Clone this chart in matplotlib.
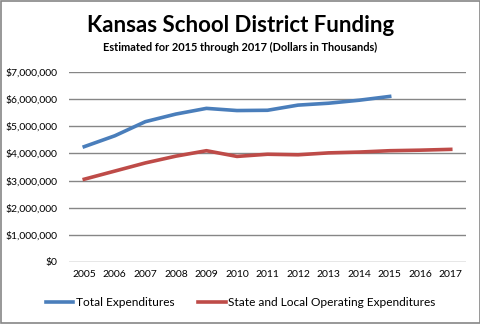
import numpy as np
import matplotlib.pyplot as plt
from matplotlib.ticker import FuncFormatter

# data (dollars in thousands)
years = ['2005', '2006', '2007', '2008', '2009', '2010', '2011',
         '2012', '2013', '2014', '2015', '2016', '2017']
total_exp = [4250000, 4650000, 5170000, 5450000, 5660000, 5580000, 5590000,
             5780000, 5850000, 5960000, 6100000, np.nan, np.nan]
state_local = [3050000, 3350000, 3650000, 3900000, 4100000, 3890000, 3970000,
               3950000, 4020000, 4050000, 4100000, 4120000, 4150000]

plt.rcParams['font.family'] = ['Lato', 'DejaVu Sans']

fig = plt.figure(figsize=(4.81, 3.24), dpi=100)
ax = fig.add_axes([69 / 481, 1 - 262 / 324, 397 / 481, 190 / 324])

x = np.arange(len(years))
ax.plot(x, total_exp, color='#4a7ebb', lw=2.6, label='Total Expenditures')
ax.plot(x, state_local, color='#be4b48', lw=2.6,
        label='State and Local Operating Expenditures')

ax.set_xlim(-0.5, len(years) - 0.5)
ax.set_ylim(0, 7000000)
ax.set_yticks(np.arange(0, 7000001, 1000000))
ax.yaxis.set_major_formatter(FuncFormatter(lambda v, p: '${:,.0f}'.format(v)))
ax.set_xticks(x)
ax.set_xticklabels(years)
ax.grid(axis='y', color='#868686', lw=1)
ax.set_axisbelow(True)
for s in ax.spines.values():
    s.set_visible(False)
ax.tick_params(length=0, labelsize=7.5, pad=6)
ax.tick_params(axis='y', pad=8)

fig.text(0.5, 1 - 25 / 324, 'Kansas School District Funding',
         ha='center', va='center', fontsize=16, fontweight='bold')
fig.text(0.5, 1 - 47 / 324, 'Estimated for 2015 through 2017 (Dollars in Thousands)',
         ha='center', va='center', fontsize=7.9, fontweight='bold')

fig.legend(loc='center', bbox_to_anchor=(0.5, 1 - 303 / 324), ncol=2,
           frameon=False, fontsize=8.6, handlelength=2.3, handletextpad=0.2,
           columnspacing=2.0)

# outer border
fig.patches.append(plt.Rectangle((0.002, 0.003), 0.995, 0.994, transform=fig.transFigure,
                                 fill=False, edgecolor='#868686', lw=1.2))

fig.savefig('out.png', dpi=100)
